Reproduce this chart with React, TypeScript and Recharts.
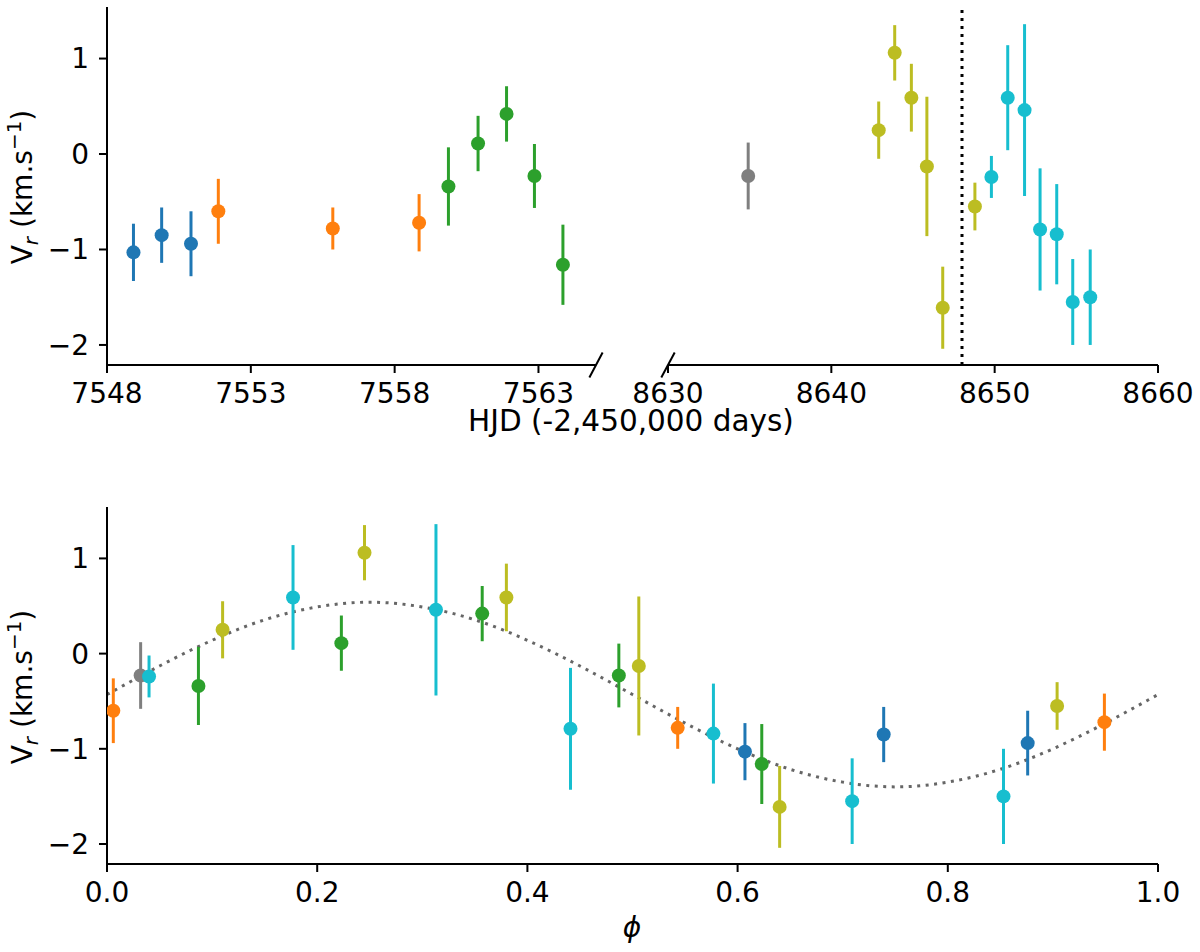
import { ComposedChart, Scatter, ErrorBar, Line, XAxis, YAxis, ReferenceLine } from 'recharts';

// one array set per observing run (HJD - 2,450,000, Vr in km/s, 1-sigma error, orbital phase)
const run1Hjd = [7548.92, 7549.9, 7550.92];
const run1Vr = [-1.03, -0.85, -0.94];
const run1Err = [0.3, 0.29, 0.34];
const run1Phase = [0.607, 0.739, 0.876];

const run2Hjd = [7551.87, 7555.85, 7558.85];
const run2Vr = [-0.6, -0.78, -0.72];
const run2Err = [0.34, 0.22, 0.3];
const run2Phase = [0.006, 0.543, 0.949];

const run3Hjd = [7559.87, 7560.9, 7561.89, 7562.86, 7563.85];
const run3Vr = [-0.34, 0.11, 0.42, -0.23, -1.16];
const run3Err = [0.41, 0.29, 0.29, 0.335, 0.42];
const run3Phase = [0.087, 0.223, 0.357, 0.487, 0.623];

const run4Hjd = [8634.91];
const run4Vr = [-0.23];
const run4Err = [0.35];
const run4Phase = [0.032];

const run5Hjd = [8642.9, 8643.88, 8644.9, 8645.85, 8646.82, 8648.79];
const run5Vr = [0.25, 1.06, 0.59, -0.13, -1.61, -0.55];
const run5Err = [0.3, 0.29, 0.355, 0.73, 0.43, 0.25];
const run5Phase = [0.11, 0.245, 0.38, 0.506, 0.64, 0.904];

const run6Hjd = [8649.8, 8650.8, 8651.83, 8652.78, 8653.8, 8654.78, 8655.85];
const run6Vr = [-0.24, 0.59, 0.46, -0.79, -0.84, -1.55, -1.5];
const run6Err = [0.22, 0.55, 0.9, 0.64, 0.525, 0.45, 0.5];
const run6Phase = [0.04, 0.177, 0.313, 0.441, 0.577, 0.709, 0.853];

const runColors = ['#1f77b4', '#ff7f0e', '#2ca02c', '#7f7f7f', '#bcbd22', '#17becf'];

// orbital fit
const fitPhase = [0, 0.05, 0.1, 0.15, 0.2, 0.25, 0.3, 0.35, 0.4, 0.45, 0.5, 0.55, 0.6, 0.65, 0.7, 0.75, 0.8, 0.85, 0.9, 0.95, 1];
const fitVr = [-0.43, -0.13, 0.14, 0.355, 0.49, 0.54, 0.49, 0.355, 0.14, -0.13, -0.43, -0.73, -1.0, -1.215, -1.35, -1.4, -1.35, -1.215, -1.0, -0.73, -0.43];

const leftTicks = [7548, 7553, 7558, 7563];
const rightTicks = [8630, 8640, 8650, 8660];
const phaseTicks = [0, 0.2, 0.4, 0.6, 0.8, 1];
const vrTicks = [-2, -1, 0, 1];
const eclipseHjd = 8648;

const runs = [
  { hjd: run1Hjd, vr: run1Vr, err: run1Err, phase: run1Phase },
  { hjd: run2Hjd, vr: run2Vr, err: run2Err, phase: run2Phase },
  { hjd: run3Hjd, vr: run3Vr, err: run3Err, phase: run3Phase },
  { hjd: run4Hjd, vr: run4Vr, err: run4Err, phase: run4Phase },
  { hjd: run5Hjd, vr: run5Vr, err: run5Err, phase: run5Phase },
  { hjd: run6Hjd, vr: run6Vr, err: run6Err, phase: run6Phase },
].map((r, i) => ({
  color: runColors[i],
  byTime: r.hjd.map((t, j) => ({ x: t, y: r.vr[j], e: r.err[j] })),
  byPhase: r.phase.map((p, j) => ({ x: p, y: r.vr[j], e: r.err[j] })),
}));

const fitData = fitPhase.map((p, i) => ({ x: p, y: fitVr[i] }));

const VR_DOMAIN: [number, number] = [-2.21, 1.54];
const FONT = 'DejaVu Sans';
const line = { stroke: '#000', strokeWidth: 2 };
const tickStyle = { fill: '#000', fontSize: 28, fontFamily: FONT };
const fmtVr = (v: number) => (v < 0 ? '\u2212' + Math.abs(v) : String(v));

function dots(color: string) {
  return (p: any) => <circle cx={p.cx} cy={p.cy} r={7} fill={color} />;
}

function renderRuns(key: 'byTime' | 'byPhase', filter: (x: number) => boolean) {
  return runs
    .filter((r) => r[key].length > 0 && filter(r.byTime[0].x))
    .map((r, i) => (
      <Scatter
        key={key + i + r.color}
        data={r[key]}
        dataKey="y"
        fill={r.color}
        shape={dots(r.color)}
        isAnimationActive={false}
      >
        <ErrorBar dataKey="e" direction="y" width={0} stroke={r.color} strokeWidth={3} isAnimationActive={false} />
      </Scatter>
    ));
}

function VrLabel({ cy }: { cy: number }) {
  return (
    <text transform={`translate(32,${cy}) rotate(-90)`} textAnchor="middle" fontSize={28} fontFamily={FONT} fill="#000">
      V
      <tspan fontStyle="italic" fontSize={20} dy={6}>r</tspan>
      <tspan dy={-6}> (km.s</tspan>
      <tspan fontSize={20} dy={-11}>{'\u22121'}</tspan>
      <tspan dy={11}>)</tspan>
    </text>
  );
}

export default function App() {
  return (
    <div style={{ position: 'absolute', left: 0, top: 0, width: 1200, height: 952, background: '#fff' }}>
      {/* upper panel, first season */}
      <div style={{ position: 'absolute', left: 0, top: 0 }}>
        <ComposedChart width={612} height={420} margin={{ top: 7, right: 16, bottom: 15, left: 8 }}>
          <XAxis
            type="number"
            dataKey="x"
            domain={[7548, 7565]}
            allowDataOverflow
            ticks={leftTicks}
            height={40}
            axisLine={line}
            tickLine={line}
            tickSize={8}
            tickMargin={10}
            tick={tickStyle}
          />
          <XAxis xAxisId="top" orientation="top" type="number" domain={[7548, 7565]} height={0} tick={false} tickLine={false} axisLine={line} />
          <YAxis
            type="number"
            domain={VR_DOMAIN}
            allowDataOverflow
            ticks={vrTicks}
            tickFormatter={fmtVr}
            width={99}
            axisLine={line}
            tickLine={line}
            tickSize={8}
            tickMargin={10}
            tick={tickStyle}
          />
          {renderRuns('byTime', (t) => t < 8000)}
          <ReferenceLine
            segment={[{ x: 7565.23, y: -2.21 + 0.131 }, { x: 7564.77, y: -2.21 - 0.131 }]}
            stroke="#000"
            strokeWidth={2}
            ifOverflow="visible"
          />
        </ComposedChart>
      </div>

      {/* upper panel, second season */}
      <div style={{ position: 'absolute', left: 600, top: 0 }}>
        <ComposedChart width={600} height={420} margin={{ top: 7, right: 42, bottom: 15, left: 68 }}>
          <XAxis
            type="number"
            dataKey="x"
            domain={[8630, 8660]}
            allowDataOverflow
            ticks={rightTicks}
            height={40}
            axisLine={line}
            tickLine={line}
            tickSize={8}
            tickMargin={10}
            tick={tickStyle}
          />
          <XAxis xAxisId="top" orientation="top" type="number" domain={[8630, 8660]} height={0} tick={false} tickLine={false} axisLine={line} />
          <YAxis type="number" domain={VR_DOMAIN} allowDataOverflow hide />
          <YAxis yAxisId="r" orientation="right" type="number" domain={VR_DOMAIN} width={0} tick={false} tickLine={false} axisLine={line} />
          <ReferenceLine x={eclipseHjd} stroke="#000" strokeWidth={3} strokeDasharray="3 5" />
          {renderRuns('byTime', (t) => t > 8000)}
          <ReferenceLine
            segment={[{ x: 8630.41, y: -2.21 + 0.131 }, { x: 8629.59, y: -2.21 - 0.131 }]}
            stroke="#000"
            strokeWidth={2}
            ifOverflow="visible"
          />
        </ComposedChart>
      </div>

      {/* lower panel, phase-folded */}
      <div style={{ position: 'absolute', left: 0, top: 470 }}>
        <ComposedChart width={1200} height={482} margin={{ top: 37, right: 42, bottom: 28, left: 8 }}>
          <XAxis
            type="number"
            dataKey="x"
            domain={[0, 1]}
            allowDataOverflow
            ticks={phaseTicks}
            tickFormatter={(v: number) => v.toFixed(1)}
            height={60}
            axisLine={line}
            tickLine={line}
            tickSize={8}
            tickMargin={10}
            tick={tickStyle}
          />
          <XAxis xAxisId="top" orientation="top" type="number" domain={[0, 1]} height={0} tick={false} tickLine={false} axisLine={line} />
          <YAxis
            type="number"
            domain={VR_DOMAIN}
            allowDataOverflow
            ticks={vrTicks}
            tickFormatter={fmtVr}
            width={99}
            axisLine={line}
            tickLine={line}
            tickSize={8}
            tickMargin={10}
            tick={tickStyle}
          />
          <YAxis yAxisId="r" orientation="right" type="number" domain={VR_DOMAIN} width={0} tick={false} tickLine={false} axisLine={line} />
          <Line
            data={fitData}
            dataKey="y"
            type="natural"
            stroke="#666"
            strokeWidth={3}
            strokeDasharray="3 5.5"
            dot={false}
            activeDot={false}
            isAnimationActive={false}
          />
          {renderRuns('byPhase', () => true)}
        </ComposedChart>
      </div>

      <svg width={1200} height={952} style={{ position: 'absolute', left: 0, top: 0, pointerEvents: 'none' }}>
        <VrLabel cy={187} />
        <VrLabel cy={687} />
        <text x={631} y={431} textAnchor="middle" fontSize={29.5} fontFamily={FONT} fill="#000">
          HJD (-2,450,000 days)
        </text>
        <text x={632} y={937} textAnchor="middle" fontSize={28} fontFamily={FONT} fontStyle="italic" fill="#000">
          {'\u03d5'}
        </text>
      </svg>
    </div>
  );
}
